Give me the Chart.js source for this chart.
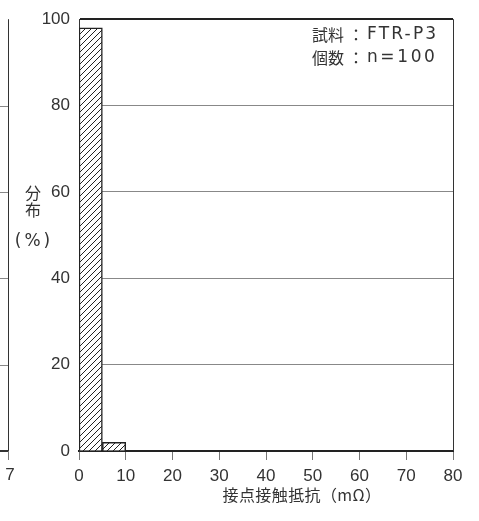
<!DOCTYPE html>
<html><head><meta charset="utf-8">
<script src="https://cdn.jsdelivr.net/npm/chart.js@4"></script>
<style>html,body{margin:0;padding:0;background:#fff}#wrap{width:479px;height:521px}</style>
</head><body><div id="wrap"><canvas id="c" width="479" height="521"></canvas></div>
<script>
const binCenters = [2.5, 7.5];
const distribution = [98, 2];
const xTickValues = [0, 10, 20, 30, 40, 50, 60, 70, 80];
const yTickValues = [0, 20, 40, 60, 80, 100];
const noteKeys = ['試料', '個数'];
const noteValues = ['FTR-P3', 'n=100'];
const xTitle = '接点接触抵抗（mΩ）';
const yTitleLines = ['分', '布', '(%)'];
const leftFragmentLabel = '7';

function hatch() {
  const s = 6, c = document.createElement('canvas');
  c.width = s; c.height = s;
  const g = c.getContext('2d');
  g.fillStyle = '#fff'; g.fillRect(0, 0, s, s);
  g.strokeStyle = '#222'; g.lineWidth = 1;
  g.beginPath();
  g.moveTo(0, s); g.lineTo(s, 0);
  g.moveTo(-1, 1); g.lineTo(1, -1);
  g.moveTo(s - 1, s + 1); g.lineTo(s + 1, s - 1);
  g.stroke();
  return g.createPattern(c, 'repeat');
}

const cjk = '"Noto Sans CJK JP", "Noto Sans", sans-serif';
const lat = '"DejaVu Sans", Verdana, sans-serif';
const deco = {
  id: 'deco',
  afterDraw(chart) {
    const ctx = chart.ctx, a = chart.chartArea, y = chart.scales.y;
    ctx.save();
    // right border
    ctx.strokeStyle = '#333'; ctx.lineWidth = 1;
    ctx.beginPath(); ctx.moveTo(a.right + 0.5, a.top); ctx.lineTo(a.right + 0.5, a.bottom); ctx.stroke();
    // left neighbouring chart fragment
    ctx.strokeStyle = '#888';
    yTickValues.filter(v => v > 0 && v < 100).forEach(v => {
      const py = Math.round(y.getPixelForValue(v)) + 0.5;
      ctx.beginPath(); ctx.moveTo(0, py); ctx.lineTo(8, py); ctx.stroke();
    });
    ctx.strokeStyle = '#333';
    ctx.beginPath(); ctx.moveTo(8.5, a.top); ctx.lineTo(8.5, a.bottom); ctx.stroke();
    ctx.lineWidth = 2;
    ctx.beginPath(); ctx.moveTo(0, a.bottom); ctx.lineTo(9, a.bottom); ctx.stroke();
    ctx.strokeStyle = '#777'; ctx.lineWidth = 1;
    ctx.beginPath(); ctx.moveTo(8.5, a.bottom); ctx.lineTo(8.5, a.bottom + 9); ctx.stroke();
    ctx.fillStyle = '#333';
    ctx.font = '17px "Liberation Sans", Arial, sans-serif';
    ctx.textAlign = 'center'; ctx.textBaseline = 'middle';
    ctx.fillText(leftFragmentLabel, 10, 475);
    // note
    ctx.textAlign = 'left';
    [35, 58].forEach((py, i) => {
      ctx.letterSpacing = '0px';
      ctx.font = '16px ' + cjk;
      ctx.fillText(noteKeys[i], 312, py);
      ctx.fillText('：', 348, py);
      ctx.font = '17px ' + lat;
      ctx.letterSpacing = i === 0 ? '2.2px' : '2.6px';
      ctx.fillText(noteValues[i], 367, py);
    });
    ctx.letterSpacing = '0px';
    // x title
    ctx.textAlign = 'center';
    ctx.font = '16px ' + cjk;
    ctx.letterSpacing = '0.4px';
    ctx.fillText(xTitle, 302, 495);
    ctx.letterSpacing = '0px';
    // y title
    ctx.font = '16px ' + cjk;
    ctx.fillText(yTitleLines[0], 33, 193);
    ctx.fillText(yTitleLines[1], 33, 210);
    ctx.font = '17px ' + lat;
    ctx.letterSpacing = '3px';
    ctx.fillText(yTitleLines[2], 34, 242);
    ctx.restore();
  }
};

new Chart(document.getElementById('c'), {
  type: 'bar',
  data: {
    datasets: [{
      data: binCenters.map((x, i) => ({ x: x, y: distribution[i] })),
      backgroundColor: hatch(),
      borderColor: '#222',
      borderWidth: 1.5,
      barPercentage: 1,
      categoryPercentage: 1
    }]
  },
  options: {
    responsive: false,
    animation: false,
    devicePixelRatio: 1,
    layout: { padding: { top: 16, right: 26, left: 0, bottom: 0 } },
    plugins: { legend: { display: false }, tooltip: { enabled: false } },
    scales: {
      x: {
        type: 'linear', min: 0, max: 80, offset: false,
        afterBuildTicks: s => { s.ticks = xTickValues.map(v => ({ value: v })); },
        afterFit: s => { s.height = 70; },
        grid: { drawOnChartArea: false, drawTicks: true, tickLength: 9, tickColor: '#777', offset: false },
        border: { display: true, color: '#222', width: 2 },
        ticks: { color: '#333', padding: 6, maxRotation: 0, font: { size: 17, family: '"Liberation Sans", Arial, sans-serif' } }
      },
      y: {
        min: 0, max: 100,
        afterBuildTicks: s => { s.ticks = yTickValues.map(v => ({ value: v })); },
        afterFit: s => { s.width = 79; },
        grid: {
          drawTicks: false,
          color: c => c.tick && c.tick.value === 100 ? '#222' : (c.tick && c.tick.value === 0 ? 'rgba(0,0,0,0)' : '#888'),
          lineWidth: c => c.tick && c.tick.value === 100 ? 2 : 1
        },
        border: { display: true, color: '#333', width: 1 },
        ticks: { color: '#333', padding: 9, font: { size: 17, family: '"Liberation Sans", Arial, sans-serif' } }
      }
    }
  },
  plugins: [deco]
});
</script>
</body></html>
